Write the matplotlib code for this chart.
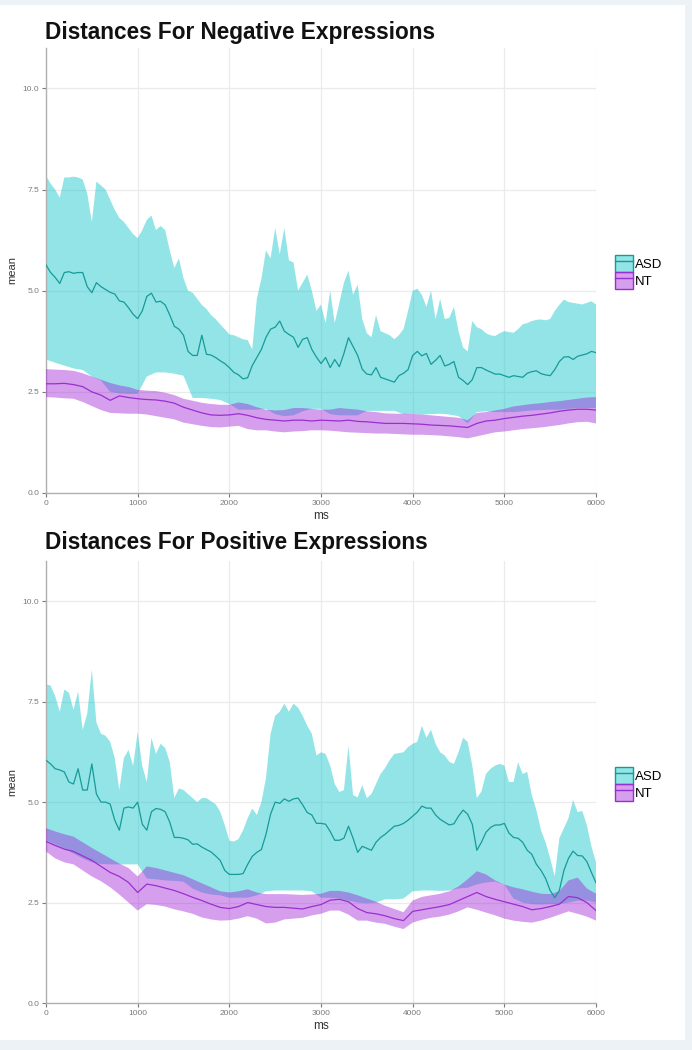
import matplotlib
matplotlib.use("Agg")
import matplotlib.pyplot as plt
import numpy as np
from matplotlib.patches import Patch, Rectangle
from matplotlib.lines import Line2D
from matplotlib.legend_handler import HandlerTuple

plt.rcParams['font.family'] = ['Liberation Sans', 'DejaVu Sans']

# ---------------- data ----------------
ms_fine = list(range(0, 6001, 50))      # ASD upper / mean sampling
ms_coarse = list(range(0, 6001, 100))   # ASD lower and NT sampling
groups = ["ASD", "NT"]
y_ticks = [0.0, 2.5, 5.0, 7.5, 10.0]
y_tick_labels = ["0.0", "2.5", "5.0", "7.5", "10.0"]
x_ticks = [0, 1000, 2000, 3000, 4000, 5000, 6000]
titles = ["Distances For Negative Expressions", "Distances For Positive Expressions"]

neg_asd_upper = [
    7.84, 7.65, 7.5, 7.3, 7.8, 7.8, 7.82, 7.8, 7.75, 7.4,
    6.7, 7.7, 7.6, 7.5, 7.25, 7.0, 6.8, 6.7, 6.55, 6.4,
    6.3, 6.5, 6.75, 6.86, 6.5, 6.6, 6.5, 6.0, 5.56, 5.8,
    5.31, 5.0, 4.95, 4.8, 4.65, 4.55, 4.4, 4.3, 4.17, 4.05,
    3.92, 3.9, 3.85, 3.8, 3.78, 3.55, 4.8, 5.3, 6.0, 5.8,
    6.55, 5.9, 6.55, 5.75, 5.7, 5.0, 5.2, 5.4, 5.0, 4.5,
    4.66, 4.2, 5.0, 4.2, 4.7, 5.2, 5.5, 4.9, 5.15, 4.3,
    3.95, 3.85, 4.4, 4.0, 3.95, 3.9, 3.8, 3.9, 4.05, 4.5,
    5.0, 5.05, 4.9, 4.6, 5.0, 4.3, 4.8, 4.3, 4.33, 4.6,
    4.0, 3.6, 3.5, 4.25, 4.1, 4.05, 3.95, 3.9, 3.88, 3.95,
    4.0, 3.98, 3.96, 4.05, 4.17, 4.2, 4.25, 4.28, 4.29, 4.27,
    4.3, 4.5, 4.65, 4.78, 4.72, 4.7, 4.68, 4.66, 4.7, 4.74,
    4.66]
neg_asd_mean = [
    5.64, 5.45, 5.33, 5.18, 5.45, 5.47, 5.43, 5.45, 5.45, 5.1,
    4.95, 5.2, 5.1, 5.03, 4.96, 4.92, 4.75, 4.72, 4.58, 4.42,
    4.31, 4.5, 4.86, 4.94, 4.72, 4.74, 4.65, 4.4, 4.12, 4.05,
    3.9, 3.5, 3.4, 3.4, 3.9, 3.43, 3.41, 3.35, 3.27, 3.2,
    3.1, 2.98, 2.92, 2.82, 2.85, 3.15, 3.35, 3.55, 3.85, 4.05,
    4.1, 4.25, 4.0, 3.92, 3.85, 3.6, 3.8, 3.84, 3.55, 3.36,
    3.2, 3.35, 3.1, 3.3, 3.12, 3.45, 3.84, 3.62, 3.4, 3.06,
    2.94, 2.92, 3.1, 2.86, 2.82, 2.78, 2.74, 2.9, 2.96, 3.05,
    3.4, 3.5, 3.39, 3.45, 3.18, 3.28, 3.4, 3.14, 3.18, 3.25,
    2.86, 2.78, 2.68, 2.8, 3.1, 3.1, 3.04, 2.99, 2.94, 2.94,
    2.9, 2.86, 2.9, 2.88, 2.86, 2.96, 3.0, 3.02, 2.95, 2.92,
    2.9, 3.05, 3.25, 3.36, 3.37, 3.3, 3.38, 3.41, 3.44, 3.5,
    3.47]
neg_asd_lower = [
    3.3, 3.22, 3.15, 3.08, 3.04, 2.88, 2.78, 2.5, 2.46, 2.45,
    2.45, 2.88, 2.98, 2.98, 2.95, 2.9, 2.35, 2.35, 2.33, 2.3,
    2.2, 2.06, 2.06, 2.06, 2.08, 1.95, 1.9, 1.92, 2.02, 2.08,
    2.08, 1.95, 1.92, 1.92, 1.92, 2.03, 2.03, 2.03, 2.03, 1.95,
    1.95, 1.94, 1.95, 1.96, 1.94, 1.9, 1.72, 2.0, 2.02, 2.0,
    2.0, 2.0, 2.02, 2.04, 2.05, 2.06, 2.06, 2.08, 2.1, 2.1,
    2.1]
neg_nt_upper = [
    3.06, 3.05, 3.04, 3.02, 2.96, 2.88, 2.8, 2.72, 2.66, 2.62,
    2.55, 2.53, 2.52, 2.48, 2.42, 2.33, 2.28, 2.23, 2.2, 2.18,
    2.18, 2.24, 2.2, 2.12, 2.06, 2.04, 2.05, 2.1, 2.1, 2.08,
    2.06, 2.06, 2.1, 2.08, 2.06, 2.02, 2.0, 1.97, 1.96, 1.96,
    1.95, 1.94, 1.92, 1.9, 1.88, 1.86, 1.8, 1.98, 2.0, 2.04,
    2.08, 2.14, 2.17, 2.2, 2.22, 2.25, 2.27, 2.3, 2.33, 2.36,
    2.37]
neg_nt_mean = [
    2.7, 2.7, 2.71, 2.68, 2.63, 2.5, 2.42, 2.29, 2.4, 2.36,
    2.33, 2.31, 2.3, 2.27, 2.22, 2.12, 2.05, 1.98, 1.93, 1.92,
    1.93, 1.96, 1.92, 1.86, 1.82, 1.8, 1.78, 1.8, 1.8, 1.78,
    1.8, 1.79, 1.78, 1.8, 1.77, 1.76, 1.74, 1.72, 1.72, 1.72,
    1.71, 1.7, 1.68, 1.67, 1.66, 1.64, 1.62, 1.72, 1.78, 1.8,
    1.84, 1.87, 1.9, 1.92, 1.95, 1.98, 2.02, 2.05, 2.07, 2.07,
    2.05]
neg_nt_lower = [
    2.37, 2.36, 2.34, 2.33, 2.25, 2.15, 2.05, 1.98, 1.97, 1.96,
    1.96, 1.94, 1.9, 1.86, 1.82, 1.74, 1.7, 1.66, 1.63, 1.62,
    1.64, 1.66, 1.58, 1.55, 1.55, 1.52, 1.5, 1.52, 1.53, 1.55,
    1.55, 1.54, 1.52, 1.5, 1.49, 1.48, 1.47, 1.47, 1.46, 1.45,
    1.44, 1.44, 1.43, 1.42, 1.4, 1.38, 1.35, 1.4, 1.45, 1.5,
    1.52, 1.55, 1.58, 1.6, 1.62, 1.65, 1.68, 1.72, 1.75, 1.76,
    1.72]

pos_asd_upper = [
    7.93, 7.9, 7.64, 7.25, 7.8, 7.72, 7.3, 7.75, 6.8, 7.2,
    8.3, 6.98, 6.7, 6.65, 6.5, 6.1, 5.3, 6.1, 6.3, 5.9,
    6.74, 5.9, 5.5, 6.6, 6.2, 6.45, 6.35, 6.0, 5.1, 5.34,
    5.3, 5.2, 5.1, 5.0, 5.1, 5.1, 5.02, 4.95, 4.76, 4.43,
    4.04, 4.02, 4.08, 4.3, 4.6, 4.84, 4.68, 5.0, 5.6, 6.7,
    7.15, 7.25, 7.45, 7.25, 7.45, 7.35, 7.15, 6.9, 6.7, 6.16,
    6.24, 6.2, 5.91, 5.45, 5.25, 5.3, 6.4, 5.17, 5.12, 5.42,
    5.1, 5.2, 5.45, 5.7, 5.85, 6.05, 6.2, 6.22, 6.24, 6.37,
    6.45, 6.5, 6.9, 6.6, 6.8, 6.45, 6.24, 6.16, 6.0, 5.95,
    6.24, 6.6, 6.5, 5.91, 5.1, 5.26, 5.7, 5.83, 5.91, 5.95,
    5.91, 5.5, 5.5, 5.99, 5.7, 5.75, 5.17, 4.8, 4.3, 4.0,
    3.6, 3.15, 4.1, 4.35, 4.6, 5.05, 4.75, 4.78, 4.43, 3.9,
    3.5]
pos_asd_mean = [
    6.04, 5.95, 5.83, 5.8, 5.75, 5.5, 5.45, 5.83, 5.3, 5.3,
    5.95, 5.2, 5.0, 5.0, 4.95, 4.55, 4.3, 4.85, 4.88, 4.85,
    5.0, 4.45, 4.3, 4.76, 4.84, 4.82, 4.76, 4.5, 4.12, 4.12,
    4.1, 4.06, 3.95, 3.96, 3.88, 3.82, 3.76, 3.66, 3.55, 3.3,
    3.2, 3.2, 3.2, 3.22, 3.45, 3.65, 3.75, 3.82, 4.2, 4.7,
    5.0, 4.97, 5.08, 5.02, 5.08, 5.1, 4.93, 4.74, 4.68, 4.47,
    4.47, 4.45, 4.27, 4.05, 4.05, 4.1, 4.4, 4.1, 3.75, 3.9,
    3.85, 3.8, 4.0, 4.12, 4.2, 4.3, 4.4, 4.42, 4.47, 4.55,
    4.65, 4.75, 4.9, 4.85, 4.85, 4.68, 4.57, 4.5, 4.43, 4.46,
    4.65, 4.8, 4.7, 4.45, 3.8, 4.0, 4.25, 4.37, 4.43, 4.43,
    4.47, 4.23, 4.12, 4.1, 4.0, 3.8, 3.7, 3.45, 3.3, 3.1,
    2.8, 2.62, 2.8, 3.3, 3.6, 3.78, 3.67, 3.66, 3.52, 3.25,
    2.99]
pos_asd_lower = [
    4.05, 3.95, 3.85, 3.72, 3.6, 3.5, 3.46, 3.45, 3.45, 3.45,
    3.45, 3.1, 3.08, 3.05, 3.04, 3.02, 2.85, 2.75, 2.7, 2.68,
    2.62, 2.62, 2.62, 2.68, 2.78, 2.8, 2.8, 2.8, 2.8, 2.78,
    2.62, 2.62, 2.6, 2.55, 2.5, 2.48, 2.5, 2.58, 2.58, 2.6,
    2.78, 2.8, 2.8, 2.79, 2.8, 2.85, 2.87, 2.95, 3.0, 3.02,
    2.95, 2.6, 2.5, 2.46, 2.45, 2.46, 2.46, 2.5, 2.55, 2.55,
    2.5]
pos_nt_upper = [
    4.35, 4.27, 4.2, 4.14, 4.0, 3.86, 3.73, 3.6, 3.47, 3.36,
    3.15, 3.4, 3.36, 3.3, 3.24, 3.18, 3.08, 2.98, 2.88, 2.78,
    2.75, 2.78, 2.83, 2.75, 2.71, 2.71, 2.71, 2.7, 2.69, 2.7,
    2.72, 2.79, 2.79, 2.75, 2.68, 2.6, 2.52, 2.42, 2.34, 2.26,
    2.55, 2.64, 2.68, 2.72, 2.78, 2.9, 3.08, 3.28, 3.2, 3.05,
    2.95, 2.88, 2.83, 2.77, 2.72, 2.71, 2.78, 3.05, 3.12, 2.85,
    2.72]
pos_nt_mean = [
    4.02, 3.92, 3.83, 3.77, 3.66, 3.55, 3.4, 3.25, 3.15, 3.0,
    2.75, 2.96, 2.92, 2.86, 2.8, 2.72, 2.63, 2.55, 2.46, 2.38,
    2.35, 2.4, 2.5, 2.45, 2.4, 2.38, 2.38, 2.36, 2.34, 2.4,
    2.45, 2.56, 2.58, 2.52, 2.35, 2.25, 2.22, 2.17, 2.1, 2.05,
    2.28, 2.32, 2.36, 2.4, 2.45, 2.55, 2.65, 2.75, 2.65, 2.58,
    2.52, 2.46, 2.4, 2.32, 2.35, 2.4, 2.46, 2.65, 2.62, 2.5,
    2.3]
pos_nt_lower = [
    3.77, 3.6, 3.5, 3.45, 3.3, 3.15, 3.03, 2.88, 2.7, 2.5,
    2.3, 2.46, 2.44, 2.4, 2.33, 2.28, 2.22, 2.13, 2.08, 2.05,
    2.06, 2.1, 2.16, 2.1, 1.98, 2.0, 2.08, 2.1, 2.12, 2.18,
    2.22, 2.3, 2.3, 2.2, 2.05, 2.05, 2.0, 1.97, 1.9, 1.84,
    2.0, 2.07, 2.12, 2.15, 2.2, 2.28, 2.38, 2.32, 2.25, 2.18,
    2.1, 2.05, 2.02, 2.0, 2.05, 2.12, 2.2, 2.28, 2.22, 2.15,
    2.05]

# ---------------- style ----------------
ASD_FILL = (0.04, 0.76, 0.78, 0.44)
ASD_LINE = "#179a9a"
NT_FILL = (0.62, 0.10, 0.84, 0.42)
NT_LINE = "#9a2fd0"
GRID = "#ebebeb"
AXC = "#b0b0b0"
TICKC = "#7a7a7a"

W, H = 692, 1050
fig = plt.figure(figsize=(W / 100, H / 100), dpi=100)
fig.patch.set_facecolor("#edf2f7")
fig.patches.append(Rectangle((0, 1 - 1040 / H), 685 / W, 1035 / H,
                             transform=fig.transFigure, facecolor="white",
                             edgecolor="none", zorder=-10))


def fx(px):
    return px / W


def fy(py):
    return 1 - py / H


panels = [
    dict(top=48, bottom=493, title_y=32, xlab_y=516, leg_y=272,
         asd=(neg_asd_lower, neg_asd_mean, neg_asd_upper),
         nt=(neg_nt_lower, neg_nt_mean, neg_nt_upper), title=titles[0]),
    dict(top=561, bottom=1003, title_y=543, xlab_y=1026, leg_y=784,
         asd=(pos_asd_lower, pos_asd_mean, pos_asd_upper),
         nt=(pos_nt_lower, pos_nt_mean, pos_nt_upper), title=titles[1]),
]

left_px, right_px = 46, 596
for p in panels:
    ax = fig.add_axes([fx(left_px), fy(p["bottom"]), (right_px - left_px) / W,
                       (p["bottom"] - p["top"]) / H])
    ax.set_xlim(0, 6000)
    ax.set_ylim(0, 11.0)
    a_lo, a_mid, a_hi = p["asd"]
    n_lo, n_mid, n_hi = p["nt"]
    a_lo_f = np.interp(ms_fine, ms_coarse, a_lo)
    ax.fill_between(ms_fine, a_lo_f, a_hi, facecolor=ASD_FILL, edgecolor="none",
                    linewidth=0, zorder=2)
    ax.fill_between(ms_coarse, n_lo, n_hi, facecolor=NT_FILL, edgecolor="none",
                    linewidth=0, zorder=3)
    ax.plot(ms_fine, a_mid, color=ASD_LINE, lw=0.9, zorder=4)
    ax.plot(ms_coarse, n_mid, color=NT_LINE, lw=0.9, zorder=4)

    ax.set_xticks(x_ticks)
    ax.set_xticklabels([str(t) for t in x_ticks])
    ax.set_yticks(y_ticks)
    ax.set_yticklabels(y_tick_labels)
    ax.grid(True, color=GRID, lw=0.9, zorder=0)
    ax.set_axisbelow(True)
    for s in ["top", "right"]:
        ax.spines[s].set_visible(False)
    for s in ["left", "bottom"]:
        ax.spines[s].set_color(AXC)
        ax.spines[s].set_linewidth(1.0)
    ax.tick_params(axis="both", labelsize=6, colors=TICKC, length=3, width=0.8, pad=2)
    ax.set_facecolor("white")

    fig.text(fx(45), fy(p["title_y"]), p["title"], fontsize=16.3,
             fontweight="bold", ha="left", va="center", color="#111111")
    fig.text(fx(321), fy(p["xlab_y"]), "ms", fontsize=8.5, ha="center",
             va="center", color="#333333")
    fig.text(fx(12), fy((p["top"] + p["bottom"]) / 2), "mean", fontsize=8,
             rotation=90, ha="center", va="center", color="#333333")

    handles = [
        (Patch(facecolor=ASD_FILL, edgecolor=ASD_LINE, linewidth=1.0),
         Line2D([], [], color=ASD_LINE, lw=1.0)),
        (Patch(facecolor=NT_FILL, edgecolor=NT_LINE, linewidth=1.0),
         Line2D([], [], color=NT_LINE, lw=1.0)),
    ]
    ax.legend(handles, groups, handler_map={tuple: HandlerTuple(ndivide=1, pad=0)},
              loc="center left", bbox_to_anchor=(fx(615), fy(p["leg_y"])),
              bbox_transform=fig.transFigure, frameon=False, fontsize=9.5,
              handlelength=1.36, handleheight=1.65, handletextpad=0.15,
              labelspacing=0.0, borderpad=0, borderaxespad=0)

fig.savefig("out.png", dpi=100, facecolor=fig.get_facecolor())
